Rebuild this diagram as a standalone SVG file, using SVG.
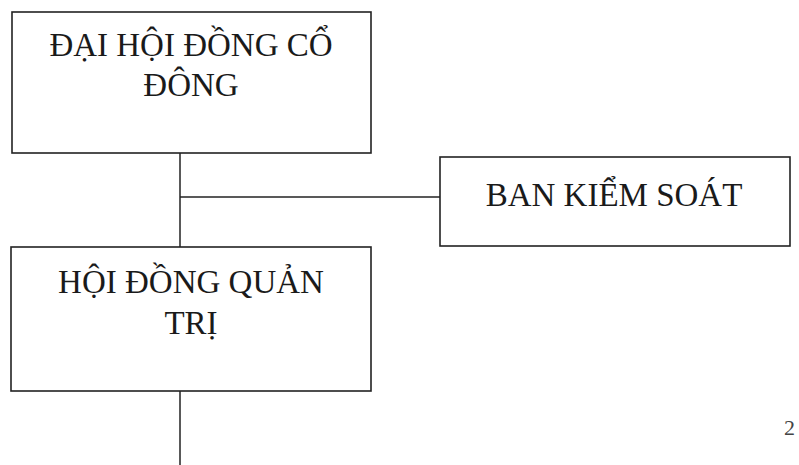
<svg xmlns="http://www.w3.org/2000/svg" width="799" height="465" viewBox="0 0 799 465">
<style>
.box{fill:#fff;stroke:#222;stroke-width:1.6}
.t{font-family:"Liberation Serif","Times New Roman",serif;font-size:33px;fill:#1a1a1a;text-anchor:middle}
.c{stroke:#222;stroke-width:1.5;fill:none}
</style>
<rect width="799" height="465" fill="#fff"/>
<g id="connectors">
<line class="c" x1="180" y1="153" x2="180" y2="247"/>
<line class="c" x1="180" y1="197" x2="440" y2="197"/>
<line class="c" x1="180" y1="391" x2="180" y2="465"/>
</g>
<g id="dai-hoi-dong-co-dong">
<rect class="box" x="12" y="12" width="359" height="141"/>
<text class="t" x="191" y="56">ĐẠI HỘI ĐỒNG CỔ</text>
<text class="t" x="191" y="96">ĐÔNG</text>
</g>
<g id="ban-kiem-soat">
<rect class="box" x="440" y="157" width="350" height="89"/>
<text class="t" x="614" y="206">BAN KIỂM SOÁT</text>
</g>
<g id="hoi-dong-quan-tri">
<rect class="box" x="11" y="247" width="360" height="144"/>
<text class="t" x="191" y="293">HỘI ĐỒNG QUẢN</text>
<text class="t" x="191" y="334">TRỊ</text>
</g>
<text x="784" y="435" font-family="Liberation Serif, serif" font-size="22" fill="#444">2</text>
</svg>
